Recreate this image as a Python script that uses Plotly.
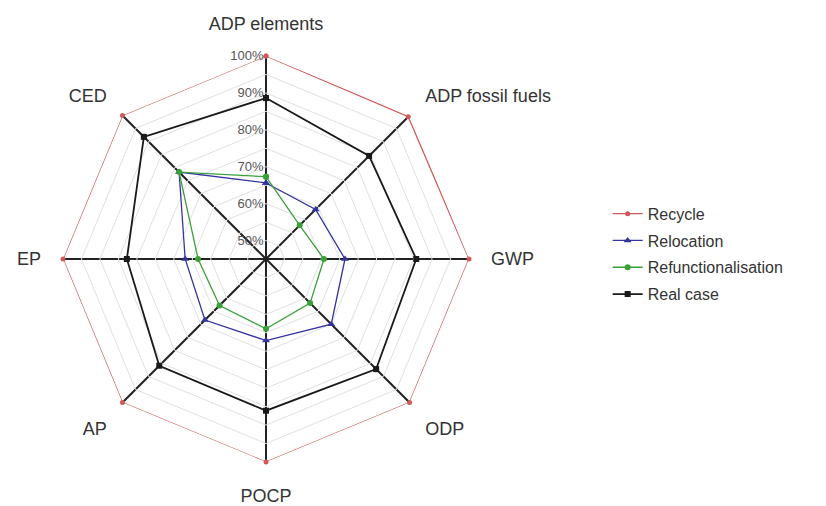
import plotly.graph_objects as go

categories = ["ADP elements", "ADP fossil fuels", "GWP", "ODP", "POCP", "AP", "EP", "CED"]
recycle = [100, 99.5, 100, 100, 100, 100, 100, 100]
relocation = [65.6, 64.0, 66.4, 70.0, 67.1, 68.4, 66.9, 78.3]
refunctionalisation = [67.3, 57.9, 60.7, 61.9, 63.9, 62.8, 63.4, 78.3]
real_case = [88.6, 84.5, 85.7, 87.2, 86.1, 85.9, 82.7, 91.8]

grid_vals = [50, 55, 60, 65, 70, 75, 80, 85, 90, 95, 100]
grid_text = ["50%", "", "60%", "", "70%", "", "80%", "", "90%", "", "100%"]

series = [
    ("Recycle", recycle, "#d05a5a", "circle", 5, 1.3),
    ("Relocation", relocation, "#3434a0", "triangle-up", 7, 1.3),
    ("Refunctionalisation", refunctionalisation, "#3aa03a", "circle", 6, 1.3),
    ("Real case", real_case, "#1a1a1a", "square", 6, 1.8),
]

fig = go.Figure()
for i, (name, vals, color, sym, msize, lw) in enumerate(series):
    fig.add_trace(go.Scatterpolar(
        r=vals + [vals[0]],
        theta=categories + [categories[0]],
        mode="lines+markers",
        name=name,
        legendgroup=name,
        line=dict(color=color, width=lw),
        marker=dict(color=color, symbol=sym, size=msize),
    ))

fig.update_layout(
    width=826, height=506,
    margin=dict(l=0, r=0, t=0, b=0),
    paper_bgcolor="white",
    font=dict(family="Liberation Sans, Arial, sans-serif", color="#333333"),
    polar=dict(
        domain=dict(x=[55/826, 461/826], y=[52/506, 458/506]),
        bgcolor="white",
        gridshape="linear",
        radialaxis=dict(
            range=[45, 100],
            tickvals=grid_vals,
            ticktext=grid_text,
            angle=90,
            tickangle=90,
            side="counterclockwise",
            showline=False,
            ticks="",
            gridcolor="#e0e0e0",
            gridwidth=1,
            tickfont=dict(size=13, color="#555555"),
        ),
        angularaxis=dict(
            rotation=90,
            direction="clockwise",
            showline=False,
            gridcolor="#222222",
            gridwidth=1.6,
            ticks="outside",
            ticklen=18,
            tickcolor="rgba(0,0,0,0)",
            tickfont=dict(size=18, color="#333333"),
        ),
    ),
    legend=dict(
        x=0.726, y=0.627, xanchor="left", yanchor="top",
        font=dict(size=16, color="#333333"),
        tracegroupgap=3,
        bgcolor="rgba(0,0,0,0)",
    ),
    showlegend=True,
)

fig.write_html("out.html")
